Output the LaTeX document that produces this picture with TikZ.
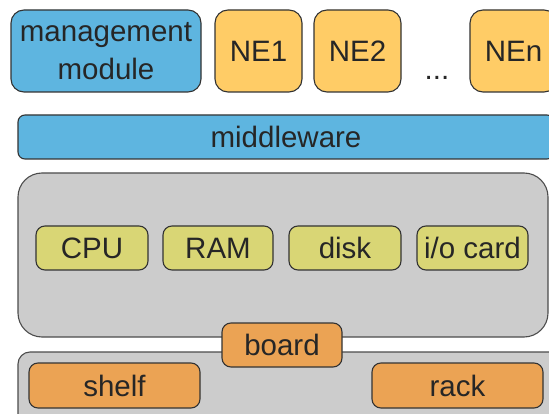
\documentclass[tikz,border=0pt]{standalone}
\usepackage{fontspec}
\setmainfont{Liberation Sans}

\definecolor{mgmtblue}{rgb}{0.37,0.71,0.88}
\definecolor{nefill}{rgb}{1,0.80,0.40}
\definecolor{partfill}{rgb}{0.85,0.84,0.46}
\definecolor{basefill}{rgb}{0.92,0.64,0.33}
\definecolor{boardgray}{rgb}{0.80,0.80,0.80}
\definecolor{txt}{rgb}{0.15,0.15,0.15}

\begin{document}
\begin{tikzpicture}[x=1pt, y=-1pt,
    box/.style={draw=black!80, line width=1.1pt, rounded corners=9pt, inner sep=0pt,
                text=txt, font=\fontsize{29.5}{38}\selectfont, align=center},
    topbox/.style={box, rounded corners=13pt, minimum height=82pt},
    partbox/.style={box, fill=partfill, minimum height=44pt},
    basebox/.style={box, fill=basefill, minimum height=45pt}]
            \useasboundingbox (0,0) rectangle (549,414);
            \clip (0,0) rectangle (549,414);

            % containers
            \filldraw[fill=boardgray, draw=black!70, line width=1.1pt, rounded corners=12pt]
                (18,352) rectangle (600,440);
            \filldraw[fill=boardgray, draw=black!70, line width=1.1pt, rounded corners=24pt]
                (18,173) rectangle (548,337);

            % top row
            \node[topbox, fill=mgmtblue, minimum width=190pt] (mgmt) at (106,51) {management\\module};
            \node[topbox, fill=nefill, minimum width=87pt] (ne1) at (258.5,51) {NE1};
            \node[topbox, fill=nefill, minimum width=87pt] (ne2) at (357.5,51) {NE2};
            \node[text=txt, font=\fontsize{29.5}{38}\selectfont, anchor=base] (dots) at (437,80) {...};
            \node[topbox, fill=nefill, minimum width=87pt] (nen) at (513.5,51) {NEn};

            \node[box, fill=mgmtblue, rounded corners=7pt, minimum width=536pt, minimum height=44pt] (mw) at (286,137) {middleware};

            % board parts
            \node[partbox, minimum width=112pt] (cpu) at (92,248) {CPU};
            \node[partbox, minimum width=110pt] (ram) at (218,248) {RAM};
            \node[partbox, minimum width=112pt] (disk) at (345,248) {disk};
            \node[partbox, minimum width=111pt] (io) at (472.5,248) {i/o card};

            \node[basebox, minimum width=120pt, minimum height=44pt] (board) at (282,345) {board};
            \node[basebox, minimum width=171pt] (shelf) at (114.5,385.5) {shelf};
            \node[basebox, minimum width=171pt] (rack) at (457.5,385.5) {rack};
        \end{tikzpicture}
\end{document}
